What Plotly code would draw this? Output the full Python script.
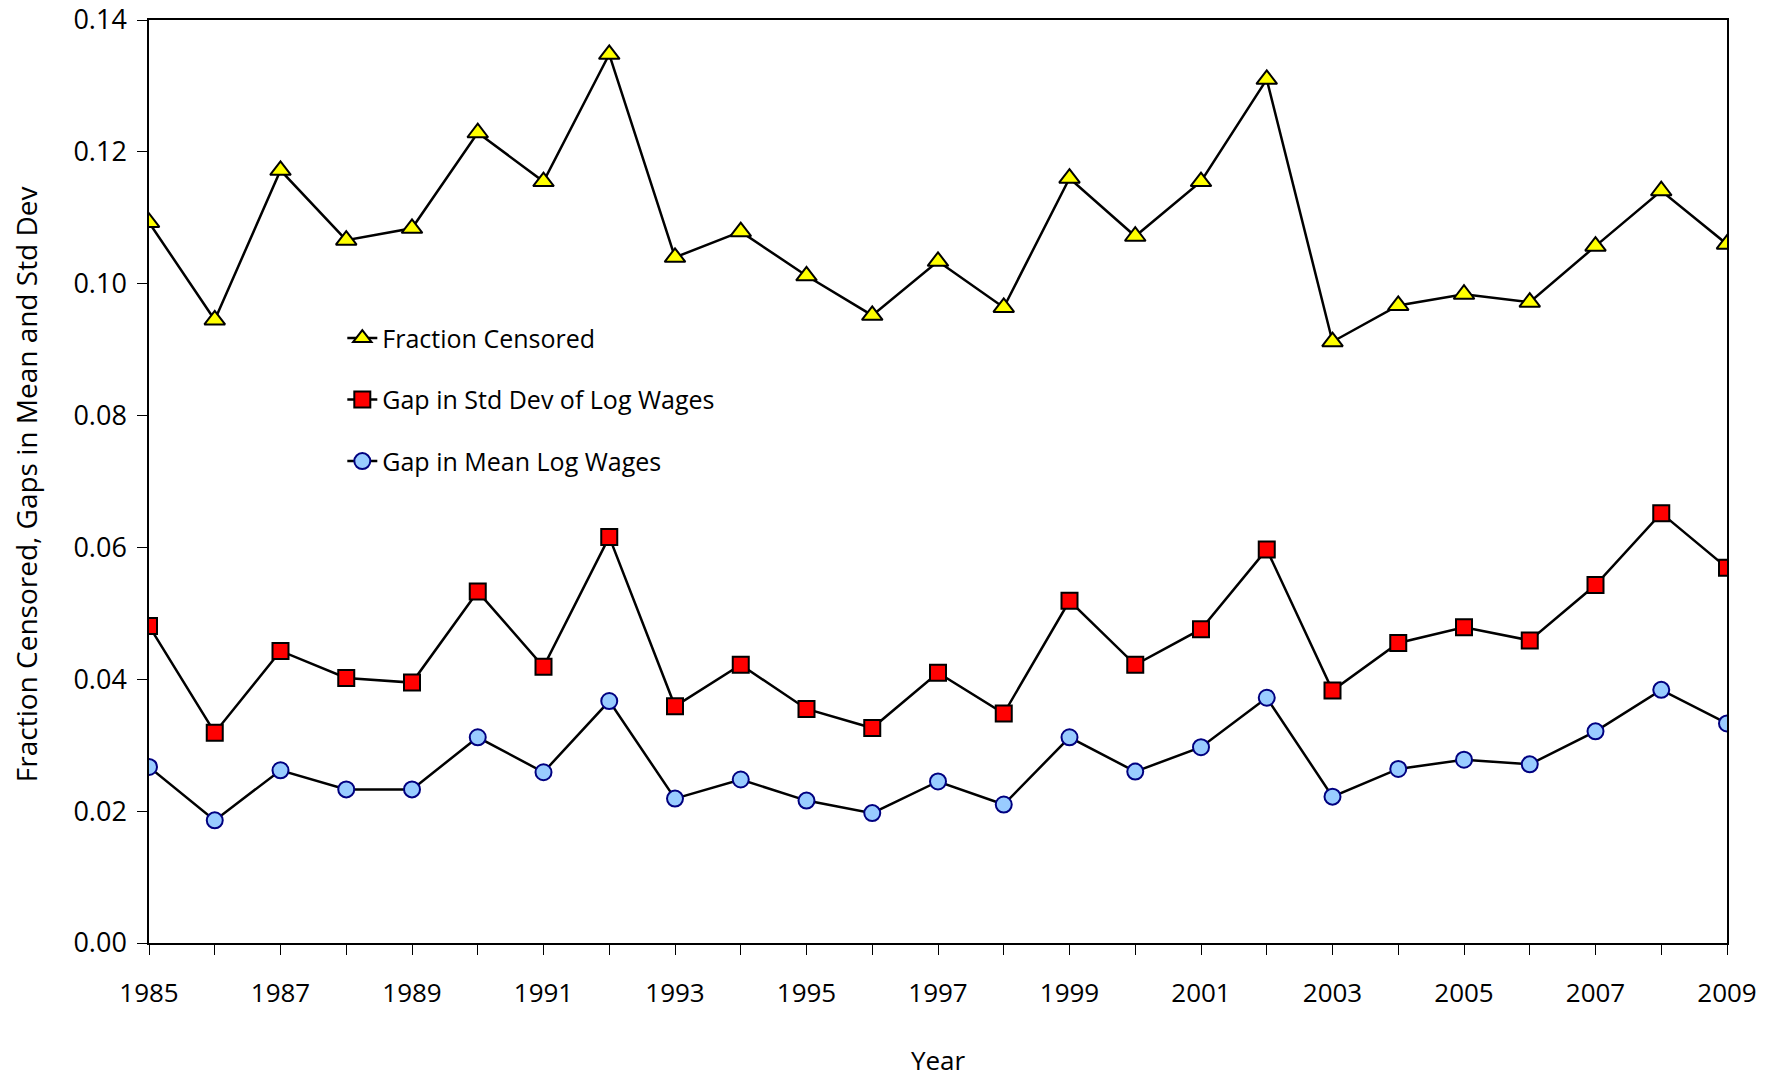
import plotly.graph_objects as go

years = list(range(1985, 2010))

fraction_censored = [0.1093, 0.0945, 0.1172, 0.1066, 0.1084, 0.1229, 0.1155, 0.1348, 0.1040, 0.1079,
                     0.1012, 0.0952, 0.1034, 0.0964, 0.1160, 0.1072, 0.1155, 0.1310, 0.0912, 0.0967,
                     0.0984, 0.0972, 0.1057, 0.1141, 0.1060]

gap_std = [0.0481, 0.0319, 0.0443, 0.0402, 0.0395, 0.0533, 0.0419, 0.0616, 0.0359, 0.0422,
           0.0355, 0.0326, 0.0410, 0.0348, 0.0519, 0.0422, 0.0476, 0.0597, 0.0383, 0.0455,
           0.0479, 0.0459, 0.0543, 0.0652, 0.0569]

gap_mean = [0.0267, 0.0186, 0.0262, 0.0233, 0.0233, 0.0312, 0.0259, 0.0367, 0.0219, 0.0248,
            0.0216, 0.0197, 0.0245, 0.0210, 0.0312, 0.0260, 0.0297, 0.0372, 0.0222, 0.0264,
            0.0278, 0.0271, 0.0321, 0.0384, 0.0333]

year_ticks = list(range(1985, 2010, 2))

FONT = "Open Sans"

fig = go.Figure()
fig.add_trace(go.Scatter(
    x=years, y=fraction_censored, name="Fraction Censored", legendgroup="a",
    mode="lines+markers", line=dict(color="black", width=2.5),
    marker=dict(symbol="triangle-up", size=18, color="#FFFF00", line=dict(color="black", width=2)),
))
fig.add_trace(go.Scatter(
    x=years, y=gap_std, name="Gap in Std Dev of Log Wages", legendgroup="b",
    mode="lines+markers", line=dict(color="black", width=2.5),
    marker=dict(symbol="square", size=16, color="#FF0000", line=dict(color="black", width=2)),
))
fig.add_trace(go.Scatter(
    x=years, y=gap_mean, name="Gap in Mean Log Wages", legendgroup="c",
    mode="lines+markers", line=dict(color="black", width=2.5),
    marker=dict(symbol="circle", size=16, color="#99CCFF", line=dict(color="#000080", width=2)),
))

fig.update_layout(
    width=1780, height=1080,
    margin=dict(l=149, r=53, t=20, b=137),
    plot_bgcolor="white", paper_bgcolor="white",
    font=dict(family=FONT, size=26, color="black"),
    legend=dict(x=0.1225, y=0.68, xanchor="left", yanchor="top",
                bgcolor="rgba(0,0,0,0)", tracegroupgap=26, traceorder="grouped",
                font=dict(family=FONT, size=25, color="black")),
)
# y title as annotation so it can sit closer to the page edge
fig.add_annotation(
    text="Fraction Censored, Gaps in Mean and Std Dev",
    xref="paper", yref="paper", x=-0.078, y=0.497,
    xanchor="center", yanchor="middle", textangle=-90, showarrow=False,
    font=dict(family=FONT, size=28, color="black"),
)
fig.update_xaxes(
    range=[1985, 2009], tickvals=year_ticks, showgrid=False, zeroline=False,
    showline=True, linecolor="black", linewidth=1.5, mirror=True,
    ticks="outside", ticklen=10, tickcolor="black", ticklabelstandoff=16,
    tickfont=dict(family=FONT, size=26, color="black"),
    minor=dict(ticks="outside", ticklen=10, tickcolor="black", dtick=1, showgrid=False),
    title=dict(text="Year", standoff=43, font=dict(family=FONT, size=26)),
    automargin=False,
)
fig.update_yaxes(
    range=[0, 0.14], dtick=0.02, tickformat=".2f", showgrid=False, zeroline=False,
    showline=True, linecolor="black", linewidth=1.5, mirror=True,
    ticks="outside", ticklen=10, tickcolor="black", ticklabelstandoff=5,
    tickfont=dict(family=FONT, size=27, color="black"),
    automargin=False,
)

fig.write_html("out.html", config={"displayModeBar": False},
               post_script="document.body.style.margin='0';")
